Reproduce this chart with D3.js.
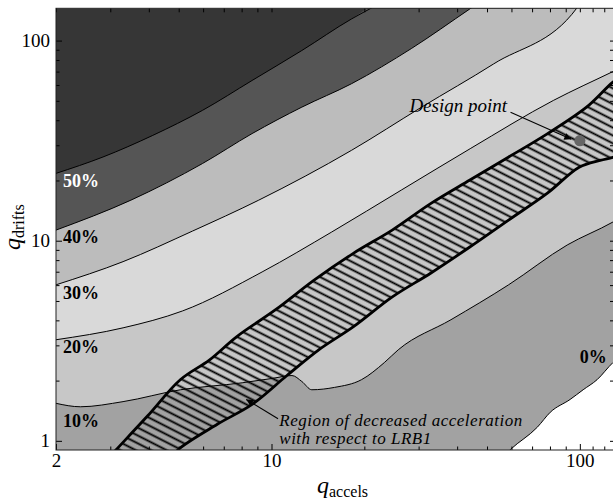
<!DOCTYPE html>
<html><head><meta charset="utf-8">
<script src="https://cdn.jsdelivr.net/npm/d3@7"></script>
<style>body{margin:0;background:#fff} svg{display:block}</style>
</head><body><svg id="c" width="613" height="500"></svg>
<script>
// ---- data ----
const xMajorTicks = [2, 10, 100];
const xTickLabels = ["2", "10", "100"];
const yMajorTicks = [1, 10, 100];
const yTickLabels = ["1", "10", "100"];
const levelLabels = ["50%", "40%", "30%", "20%", "10%", "0%"];
const bandColors = ["#363636", "#555555", "#bcbcbc", "#d9d9d9", "#c7c7c7", "#a2a2a2", "#ffffff"];

const line50 = [[2,21.7],[2.84,26.2],[4.12,33.6],[5.97,44.8],[8.65,63.2],[12.54,89.2],[18.18,128.3],[21.9,150]];
const line40 = [[2,11.3],[3.5,15.95],[5.97,24.3],[8.65,34.3],[12.54,46.5],[18.18,60.9],[28.4,91.2],[43.97,143.9],[48.1,158]];
const line30 = [[2,6.02],[3.3,7.86],[5.54,11.17],[9.09,15.95],[18.18,28.3],[30.6,46.4],[52.55,76.5],[98,146],[105,170]];
const line20 = [[2,3.2],[3.3,3.67],[5.15,4.46],[9.32,6.98],[15.67,11.05],[26.35,17.9],[44.3,28.96],[82,50.2],[128,70],[145,76.8]];
const line10 = [[2,1.54],[2.4,1.48],[3.3,1.57],[5.07,1.8],[8.03,1.95],[10.04,2.05],[11.65,2.12],[12.54,1.98],[13.51,1.8],[16.02,1.85],[19.57,2.02],[23.22,2.46],[25.76,2.85],[38.2,4.03],[58.73,6.02],[91,9.52],[128,12.4],[145,13.9]];
const line0  = [[55.3,0.808],[59.6,0.906],[72.8,1.17],[80.2,1.39],[93,1.61],[102.5,1.8],[113.7,2.02],[128,2.46],[145,2.85]];

const hatchUpper = [[2.93,0.808],[3.14,0.906],[3.96,1.33],[5.06,2.02],[6.3,2.54],[7.72,3.32],[10.31,4.52],[13.78,6.37],[18.42,8.65],[24.63,11.3],[32.9,15.36],[44,20.1],[58.8,26.2],[78.6,34.3],[105.1,46.5],[128,62],[145,70.9]];
const hatchLower = [[4.71,0.808],[4.99,0.906],[6.67,1.21],[8.65,1.52],[11.22,2.12],[14.23,2.85],[18.45,3.72],[24.65,5.24],[32.9,6.9],[43.97,9.3],[58.73,12.68],[78.5,17.29],[99.5,23.3],[116.3,25.2],[128,26.1],[145,27.7]];

const designPoint = [100, 31.6];
const labelY = [18.6, 9.74, 5.12, 2.76, 1.17];
const zeroLabel = [100, 2.46];

// ---- drawing ----
const svg = d3.select("#c");
const L = 56, R = 616, T = 8.3, B = 450;
const x = d3.scaleLog().domain([2, 131]).range([L, R]);
const y = d3.scaleLog().domain([0.9, 145]).range([B, T]);
const serif = "'Liberation Serif','Times New Roman',serif";

const defs = svg.append("defs");
defs.append("clipPath").attr("id", "clip").append("rect")
  .attr("x", L).attr("y", T).attr("width", R - L).attr("height", B - T);
const pat = defs.append("pattern").attr("id", "hatch").attr("patternUnits", "userSpaceOnUse")
  .attr("width", 10).attr("height", 7).attr("patternTransform", "rotate(27)");
pat.append("line").attr("x1", 0).attr("x2", 10).attr("y1", 3.5).attr("y2", 3.5)
  .attr("stroke", "#000").attr("stroke-width", 1.9);

const plot = svg.append("g").attr("clip-path", "url(#clip)");
plot.append("rect").attr("x", L).attr("y", T).attr("width", R - L).attr("height", B - T)
  .attr("fill", bandColors[0]);

const contours = [line50, line40, line30, line20, line10, line0];
const lineGen = d3.line().x(d => x(d[0])).y(d => y(d[1])).curve(d3.curveMonotoneX);
const areaPts = pts => {
  const f = pts[0], l = pts[pts.length - 1];
  return pts.concat([[1000, l[1]], [1000, 0.1], [1.5, 0.1], [1.5, f[1]]]);
};
contours.forEach((c, i) => {
  plot.append("path").attr("d", lineGen(areaPts(c)) + "Z").attr("fill", bandColors[i + 1]);
});
contours.forEach(c => {
  plot.append("path").attr("d", lineGen(c)).attr("fill", "none").attr("stroke", "#000").attr("stroke-width", 1);
});

// hatched region
const hatchPoly = hatchUpper.concat(hatchLower.slice().reverse());
const polyGen = d3.line().x(d => x(d[0])).y(d => y(d[1])).curve(d3.curveCatmullRomClosed.alpha(0.5));
const edgeGen = d3.line().x(d => x(d[0])).y(d => y(d[1])).curve(d3.curveCatmullRom.alpha(0.5));
plot.append("path").attr("d", polyGen(hatchPoly)).attr("fill", "url(#hatch)");
[hatchUpper, hatchLower].forEach(e => plot.append("path").attr("d", edgeGen(e)).attr("fill", "none")
  .attr("stroke", "#000").attr("stroke-width", 2.8).attr("stroke-linejoin", "round"));

// design point
plot.append("circle").attr("cx", x(designPoint[0])).attr("cy", y(designPoint[1])).attr("r", 5.6).attr("fill", "#666");

// level labels
const lab = svg.append("g").attr("font-family", serif).attr("font-weight", "bold").attr("font-size", 18);
levelLabels.slice(0, 5).forEach((t, i) => {
  lab.append("text").attr("x", L + 7).attr("y", y(labelY[i])).text(t)
    .attr("fill", i === 0 ? "#fff" : "#000");
});
lab.append("text").attr("x", x(zeroLabel[0])).attr("y", y(zeroLabel[1])).text(levelLabels[5]).attr("fill", "#000");

// annotations
defs.append("marker").attr("id", "arr").attr("viewBox", "0 0 10 10").attr("refX", 10).attr("refY", 5)
  .attr("markerWidth", 11).attr("markerHeight", 7).attr("markerUnits", "userSpaceOnUse").attr("orient", "auto")
  .append("path").attr("d", "M0,0L10,5L0,10Z").attr("fill", "#000");
const ann = svg.append("g").attr("font-family", serif).attr("font-style", "italic");
ann.append("text").attr("font-size", 19).attr("x", x(28.0)).attr("y", y(43.8)).text("Design point");
ann.append("line").attr("x1", x(59.6)).attr("y1", y(43.8)).attr("x2", x(93.8)).attr("y2", y(32.1))
  .attr("stroke", "#000").attr("stroke-width", 1.1).attr("marker-end", "url(#arr)");
const rt = ann.append("text").attr("font-size", 17).attr("letter-spacing", 0.5)
  .attr("x", x(10.6)).attr("y", y(1.18));
rt.append("tspan").text("Region of decreased acceleration");
rt.append("tspan").attr("x", x(10.6)).attr("dy", 17.5).text("with respect to LRB1");
ann.append("line").attr("x1", x(10.5)).attr("y1", y(1.29)).attr("x2", x(8.28)).attr("y2", y(1.61))
  .attr("stroke", "#000").attr("stroke-width", 1.1).attr("marker-end", "url(#arr)");

// axes
const minorX = [3,4,5,6,7,8,9,20,30,40,50,60,70,80,90,110,120,130];
const minorY = [2,3,4,5,6,7,8,9,20,30,40,50,60,70,80,90];
const fmtX = d => xTickLabels[xMajorTicks.indexOf(d)];
const fmtY = d => yTickLabels[yMajorTicks.indexOf(d)];
const axisStyle = g => {
  g.select(".domain").remove();
  g.selectAll("line").attr("stroke", "#000");
  g.selectAll("text").attr("font-family", serif).attr("font-size", 19).attr("fill", "#000");
};
svg.append("g").attr("transform", `translate(0,${B})`)
  .call(d3.axisBottom(x).tickValues(xMajorTicks).tickFormat(fmtX).tickSize(-6).tickPadding(4)).call(axisStyle);
svg.append("g").attr("transform", `translate(0,${B})`)
  .call(d3.axisBottom(x).tickValues(minorX).tickFormat("").tickSize(-3.5)).call(axisStyle);
svg.append("g").attr("transform", `translate(0,${T})`)
  .call(d3.axisTop(x).tickValues(xMajorTicks.concat(minorX)).tickFormat("").tickSize(-4)).call(axisStyle);
svg.append("g").attr("transform", `translate(${L},0)`)
  .call(d3.axisLeft(y).tickValues(yMajorTicks).tickFormat(fmtY).tickSize(-6).tickPadding(6)).call(axisStyle);
svg.append("g").attr("transform", `translate(${L},0)`)
  .call(d3.axisLeft(y).tickValues(minorY).tickFormat("").tickSize(-3.5)).call(axisStyle);
svg.append("g").attr("transform", `translate(${R},0)`)
  .call(d3.axisRight(y).tickValues(yMajorTicks.concat(minorY)).tickFormat("").tickSize(-6)).call(axisStyle);

svg.append("rect").attr("x", L).attr("y", T).attr("width", R - L).attr("height", B - T)
  .attr("fill", "none").attr("stroke", "#222").attr("stroke-width", 1);

// axis titles
const xt = svg.append("text").attr("font-family", serif).attr("x", 317).attr("y", 493);
xt.append("tspan").attr("font-style", "italic").attr("font-size", 24).text("q");
xt.append("tspan").attr("font-size", 16).attr("dy", 4).text("accels");
const yt = svg.append("text").attr("font-family", serif).attr("transform", "translate(20,250) rotate(-90)");
yt.append("tspan").attr("font-style", "italic").attr("font-size", 24).text("q");
yt.append("tspan").attr("font-size", 16).attr("dy", 4).text("drifts");
</script></body></html>
